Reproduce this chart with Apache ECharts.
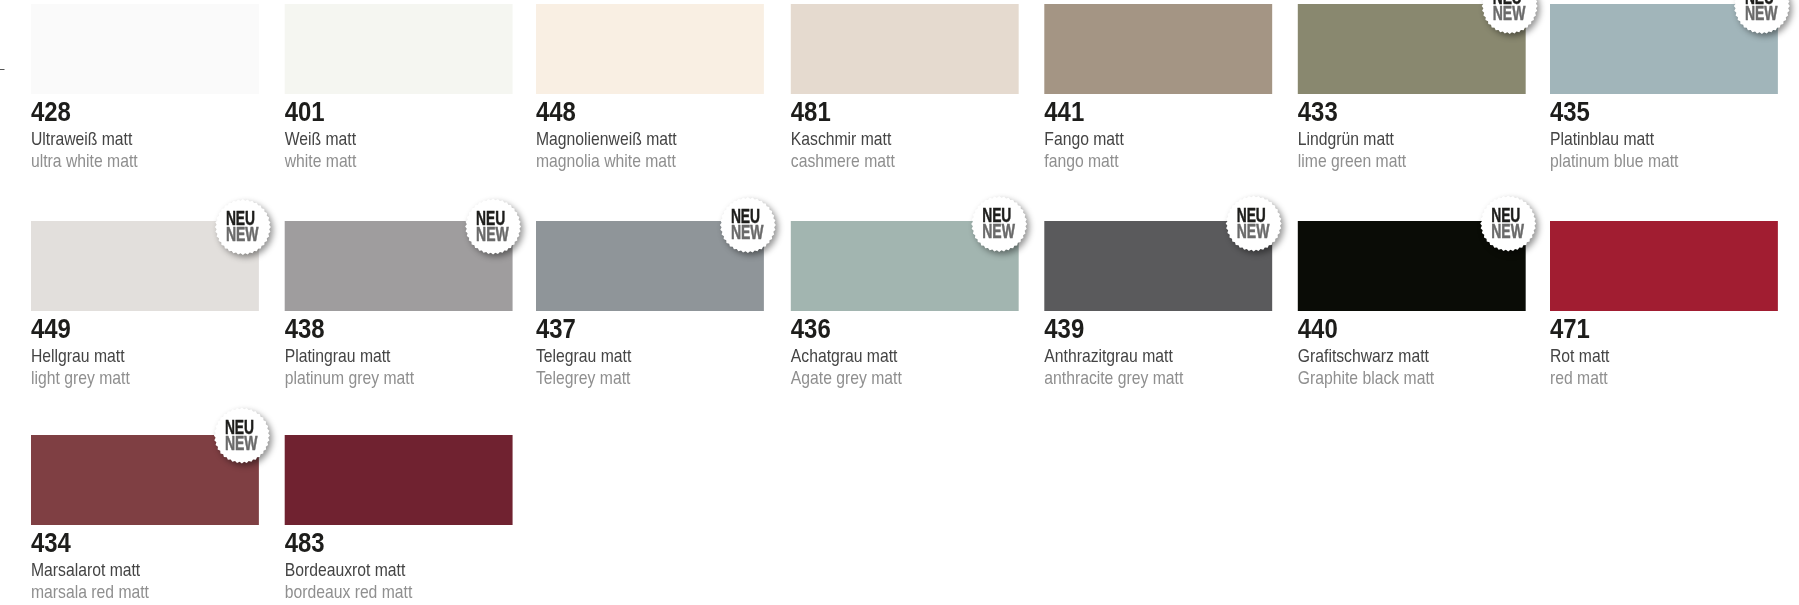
<!DOCTYPE html>
<html><head><meta charset="utf-8">
<style>html,body{margin:0;padding:0;background:#fff}#c{width:1799px;height:605px}</style>
<script src="https://cdn.jsdelivr.net/npm/echarts@6/dist/echarts.min.js"></script>
</head><body><div id="c"></div>
<script>
const codes = ['428','401','448','481','441','433','435','449','438','437','436','439','440','471','434','483'];
const germanNames = ['Ultraweiß matt','Weiß matt','Magnolienweiß matt','Kaschmir matt','Fango matt','Lindgrün matt','Platinblau matt','Hellgrau matt','Platingrau matt','Telegrau matt','Achatgrau matt','Anthrazitgrau matt','Grafitschwarz matt','Rot matt','Marsalarot matt','Bordeauxrot matt'];
const englishNames = ['ultra white matt','white matt','magnolia white matt','cashmere matt','fango matt','lime green matt','platinum blue matt','light grey matt','platinum grey matt','Telegrey matt','Agate grey matt','anthracite grey matt','Graphite black matt','red matt','marsala red matt','bordeaux red matt'];
const swatchColors = ['#fafafa','#f5f6f1','#f9efe3','#e5dacf','#a49584','#89886f','#a1b5ba','#e2dfdc','#9f9d9e','#8f9599','#a2b5b0','#5a5a5c','#0a0c06','#a11d31','#7f3f43','#702230'];
const newCodes = ['433','435','449','438','437','436','439','440','434'];

// layout only
const PER_ROW = 7;
const colNudge = [0,0.5,-1.4,0.2,0.5,0.8,-0.2];
const rowNudge = [0,1.5,0];
const badgeOffset = {'433':[-16,2],'435':[-16,2],'449':[-16,6],'438':[-19.5,5.5],'437':[-16,4],'436':[-19.5,3],'439':[-18.5,2.5],'440':[-17.5,2.5],'434':[-17,0.5]};
const FONT = '"Liberation Sans",Arial,sans-serif';

function badgePoints(cx, cy) {
  const pts = [], teeth = 36, R = 28, r = 26.4;
  for (let i = 0; i < teeth * 2; i++) {
    const a = Math.PI * i / teeth, q = i % 2 ? r : R;
    pts.push([cx + q * Math.cos(a), cy + q * Math.sin(a)]);
  }
  return pts;
}
function label(text, x, y, size, weight, fill, sx, z2, bold) {
  return {type:'text', x, y, scaleX:sx, z2:z2||5,
    style:{text, fontFamily:FONT, fontSize:size, fontWeight:weight, fill, align:'left', verticalAlign:'middle',
      stroke: bold ? fill : null, lineWidth: bold || 0}};
}
const data = codes.map((c,i)=>[i%PER_ROW, Math.floor(i/PER_ROW), i]);
function renderItem(params, api) {
  const col = api.value(0), row = api.value(1), i = api.value(2);
  const p = api.coord([col,row]);
  const s = api.size([0.9,0.418]);
  const x = p[0]+colNudge[col], y = p[1]+rowNudge[row];
  const children = [
    {type:'rect', shape:{x, y, width:s[0], height:s[1]}, style:{fill:swatchColors[i]}, z2:1},
    label(codes[i], x, y+109.5, 27.5, 'bold', '#1d1d1b', 0.87),
    label(germanNames[i], x, y+136, 18.5, 'normal', '#444444', 0.85),
    label(englishNames[i], x, y+158.3, 18.5, 'normal', '#8f8f8f', 0.85)
  ];
  if (newCodes.includes(codes[i])) {
    const o = badgeOffset[codes[i]];
    const cx = x+s[0]+o[0], cy = y+o[1];
    children.push({type:'polygon', shape:{points:badgePoints(cx,cy)}, z2:3,
      style:{fill:'#fff', shadowBlur:6, shadowColor:'rgba(0,0,0,0.42)', shadowOffsetX:3, shadowOffsetY:3}});
    children.push(label('NEU', cx-17, cy-7.5, 20, 'bold', '#1d1d1b', 0.69, 6, 0.5));
    children.push(label('NEW', cx-17, cy+8.5, 20, 'bold', '#6a6a6a', 0.7, 6, 0.5));
  }
  return {type:'group', children};
}
const chart = echarts.init(document.getElementById('c'), null, {renderer:'canvas'});
chart.setOption({
  animation:false,
  backgroundColor:'#fff',
  grid:{left:31, top:4, width:1519.2, height:431},
  xAxis:{type:'value', min:0, max:6, show:false},
  yAxis:{type:'value', min:0, max:2, inverse:true, show:false},
  series:[{type:'custom', renderItem, data, clip:false, encode:{x:0,y:1}, silent:true}],
  graphic:[{type:'line', shape:{x1:0,y1:69.5,x2:4.5,y2:69.5}, style:{stroke:'#555',lineWidth:1}}]
});
</script></body></html>
